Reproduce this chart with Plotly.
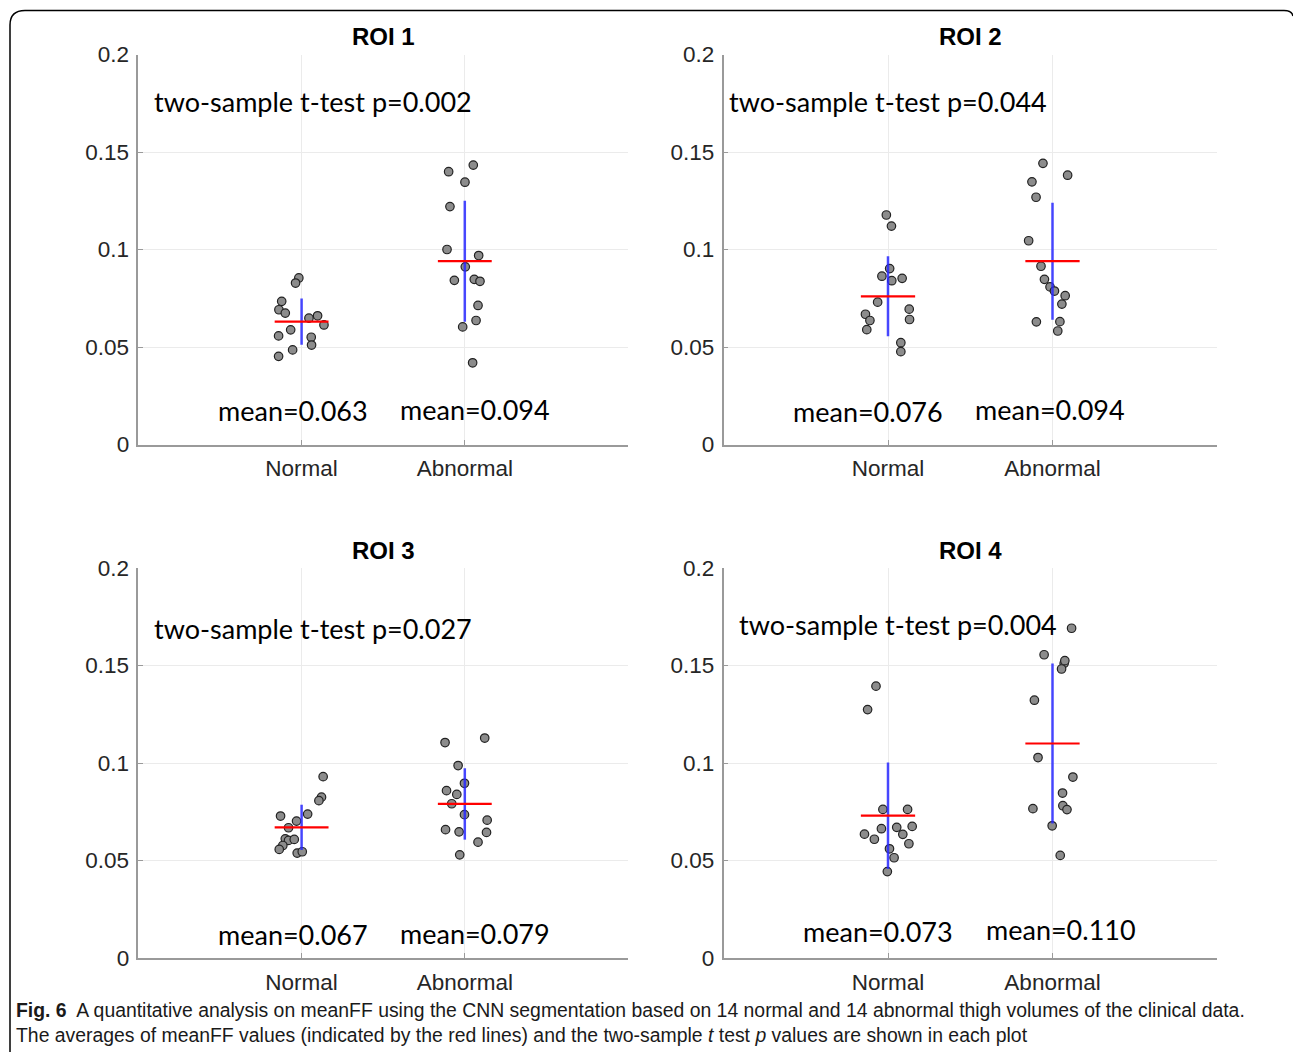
import plotly.graph_objects as go

W, H = 1293, 1052

# ---------------- data ----------------
roi_titles = ["ROI 1", "ROI 2", "ROI 3", "ROI 4"]
categories = ["Normal", "Abnormal"]
p_values = ["0.002", "0.044", "0.027", "0.004"]

normal_means = [0.063, 0.076, 0.067, 0.073]
abnormal_means = [0.094, 0.094, 0.079, 0.110]
normal_stds = [0.0119, 0.0205, 0.0116, 0.0273]
abnormal_stds = [0.031, 0.030, 0.0183, 0.041]

roi1_normal = [0.0854, 0.0828, 0.0734, 0.0691, 0.0674, 0.0648, 0.0660, 0.0613, 0.0588, 0.0557, 0.0550, 0.0510, 0.0485, 0.0452]
roi1_normal_jit = [-0.017, -0.037, -0.122, -0.139, -0.100, 0.045, 0.098, 0.137, -0.067, -0.141, 0.059, 0.061, -0.055, -0.141]
roi1_abnormal = [0.1433, 0.1399, 0.1345, 0.1220, 0.1000, 0.0969, 0.0911, 0.0842, 0.0847, 0.0837, 0.0713, 0.0636, 0.0603, 0.0419]
roi1_abnormal_jit = [0.052, -0.099, 0.001, -0.091, -0.109, 0.085, 0.003, -0.064, 0.058, 0.093, 0.081, 0.069, -0.013, 0.048]

roi2_normal = [0.1177, 0.1120, 0.0902, 0.0863, 0.0840, 0.0852, 0.0730, 0.0694, 0.0668, 0.0636, 0.0641, 0.0589, 0.0522, 0.0476]
roi2_normal_jit = [-0.010, 0.021, 0.010, -0.037, 0.023, 0.086, -0.063, 0.129, -0.137, -0.110, 0.131, -0.129, 0.078, 0.078]
roi2_abnormal = [0.1442, 0.1381, 0.1347, 0.1268, 0.1045, 0.0914, 0.0847, 0.0808, 0.0787, 0.0763, 0.0720, 0.0629, 0.0630, 0.0582]
roi2_abnormal_jit = [-0.058, 0.092, -0.125, -0.100, -0.145, -0.070, -0.049, -0.015, 0.012, 0.077, 0.057, -0.098, 0.045, 0.032]

roi3_normal = [0.0930, 0.0825, 0.0807, 0.0738, 0.0728, 0.0702, 0.0668, 0.0611, 0.0603, 0.0608, 0.0577, 0.0557, 0.0538, 0.0545]
roi3_normal_jit = [0.132, 0.122, 0.106, 0.037, -0.129, -0.031, -0.080, -0.100, -0.080, -0.045, -0.115, -0.137, -0.027, 0.004]
roi3_abnormal = [0.1128, 0.1105, 0.0987, 0.0896, 0.0858, 0.0839, 0.0791, 0.0735, 0.0707, 0.0658, 0.0647, 0.0644, 0.0594, 0.0529]
roi3_abnormal_jit = [0.122, -0.121, -0.041, -0.002, -0.112, -0.049, -0.080, -0.002, 0.137, -0.118, -0.035, 0.133, 0.081, -0.031]

roi4_normal = [0.1394, 0.1274, 0.0762, 0.0762, 0.0663, 0.0670, 0.0675, 0.0635, 0.0609, 0.0634, 0.0586, 0.0560, 0.0514, 0.0443]
roi4_normal_jit = [-0.073, -0.124, -0.031, 0.119, -0.040, 0.053, 0.147, -0.143, -0.083, 0.090, 0.127, 0.009, 0.037, -0.004]
roi4_abnormal = [0.1691, 0.1555, 0.1511, 0.1482, 0.1525, 0.1322, 0.1028, 0.0928, 0.0846, 0.0781, 0.0761, 0.0766, 0.0678, 0.0526]
roi4_abnormal_jit = [0.116, -0.051, 0.071, 0.055, 0.075, -0.110, -0.088, 0.124, 0.061, 0.063, 0.088, -0.119, -0.002, 0.047]

normal_sets = [roi1_normal, roi2_normal, roi3_normal, roi4_normal]
normal_jits = [roi1_normal_jit, roi2_normal_jit, roi3_normal_jit, roi4_normal_jit]
abnormal_sets = [roi1_abnormal, roi2_abnormal, roi3_abnormal, roi4_abnormal]
abnormal_jits = [roi1_abnormal_jit, roi2_abnormal_jit, roi3_abnormal_jit, roi4_abnormal_jit]

y_ticks = [0, 0.05, 0.1, 0.15, 0.2]
y_ticktext = ["0", "0.05", "0.1", "0.15", "0.2"]

# ---------------- layout geometry (pixels) ----------------
def px_x(p):
    return p / W

def px_y(p):
    return 1 - p / H

x_domains = [(138.4, 628.0), (723.5, 1217.0)]
y_domains = [(54.5, 444.5), (568.0, 958.0)]

# text positions in data coords per panel: (p-text x, p-text y, meanN x, meanN y, meanA x, meanA y)
text_pos = [
    (0.083, 0.176, 0.947, 0.0172, 2.06, 0.0182),
    (0.020, 0.176, 0.878, 0.0170, 1.985, 0.0180),
    (0.083, 0.169, 0.947, 0.0123, 2.06, 0.0128),
    (0.082, 0.171, 0.940, 0.0138, 2.05, 0.0144),
]

fig = go.Figure()
annotations = []
layout_axes = {}

tick_font = dict(family="Liberation Sans, Arial, sans-serif", size=22.5, color="#262626")
txt_font = dict(family="Lato, Carlito, sans-serif", size=27, color="#000000")
blue = "rgba(40,40,255,0.85)"
red = "#ff0000"
half_w = 0.165

for i in range(4):
    r, c = divmod(i, 2)
    xs = "" if i == 0 else str(i + 1)
    xa, ya = "x" + xs, "y" + xs
    xd = x_domains[c]
    yd = y_domains[r]
    layout_axes["xaxis" + xs] = dict(
        domain=[px_x(xd[0]), px_x(xd[1])], anchor=ya, range=[0, 3],
        tickvals=[1, 2], ticktext=categories, ticks="inside", ticklen=5,
        tickcolor="#9a9a9a", showline=True, linecolor="#9a9a9a", linewidth=1.5,
        showgrid=True, gridcolor="#ebebeb", gridwidth=1, zeroline=False,
        tickfont=tick_font, ticklabelstandoff=3, fixedrange=True, automargin=False,
    )
    layout_axes["yaxis" + xs] = dict(
        domain=[px_y(yd[1]), px_y(yd[0])], anchor=xa, range=[0, 0.2],
        tickvals=y_ticks, ticktext=y_ticktext, ticks="inside", ticklen=5,
        tickcolor="#9a9a9a", showline=True, linecolor="#9a9a9a", linewidth=1.5,
        showgrid=True, gridcolor="#ebebeb", gridwidth=1, zeroline=False,
        tickfont=tick_font, ticklabelstandoff=3, fixedrange=True, automargin=False,
    )

    groups = [
        (1, normal_sets[i], normal_jits[i], normal_means[i], normal_stds[i]),
        (2, abnormal_sets[i], abnormal_jits[i], abnormal_means[i], abnormal_stds[i]),
    ]
    for xc, vals, jit, m, s in groups:
        fig.add_trace(go.Scatter(
            x=[xc + j for j in jit], y=vals, mode="markers", xaxis=xa, yaxis=ya,
            marker=dict(size=8.5, color="#8c8c8c", line=dict(color="#222222", width=1.2)),
            showlegend=False, hoverinfo="skip",
        ))
        fig.add_trace(go.Scatter(
            x=[xc, xc], y=[m - s, m + s], mode="lines", xaxis=xa, yaxis=ya,
            line=dict(color=blue, width=2.5), showlegend=False, hoverinfo="skip",
        ))
        fig.add_trace(go.Scatter(
            x=[xc - half_w, xc + half_w], y=[m, m], mode="lines", xaxis=xa, yaxis=ya,
            line=dict(color=red, width=2.2), showlegend=False, hoverinfo="skip",
        ))

    tp = text_pos[i]
    annotations.append(dict(
        x=tp[0], y=tp[1], xref=xa, yref=ya, xanchor="left", yanchor="middle",
        text="two-sample t-test p=" + p_values[i], showarrow=False, font=txt_font,
    ))
    annotations.append(dict(
        x=tp[2], y=tp[3], xref=xa, yref=ya, xanchor="center", yanchor="middle",
        text="mean=%.3f" % normal_means[i], showarrow=False, font=txt_font,
    ))
    annotations.append(dict(
        x=tp[4], y=tp[5], xref=xa, yref=ya, xanchor="center", yanchor="middle",
        text="mean=%.3f" % abnormal_means[i], showarrow=False, font=txt_font,
    ))
    # title
    annotations.append(dict(
        x=px_x((xd[0] + xd[1]) / 2), y=px_y(yd[0] - 18), xref="paper", yref="paper",
        xanchor="center", yanchor="middle", text="<b>" + roi_titles[i] + "</b>",
        showarrow=False, font=dict(family="Liberation Sans, Arial, sans-serif", size=24, color="#000000"),
    ))

cap_font = dict(family="Liberation Sans, Arial, sans-serif", size=19.4, color="#1a1a1a")
annotations.append(dict(
    x=px_x(14), y=px_y(1010), xref="paper", yref="paper", xanchor="left", yanchor="middle",
    text="<b>Fig. 6</b>  A quantitative analysis on meanFF using the CNN segmentation based on 14 normal and 14 abnormal thigh volumes of the clinical data.",
    showarrow=False, font=cap_font,
))
annotations.append(dict(
    x=px_x(14), y=px_y(1035), xref="paper", yref="paper", xanchor="left", yanchor="middle",
    text="The averages of meanFF values (indicated by the red lines) and the two-sample <i>t</i> test <i>p</i> values are shown in each plot",
    showarrow=False, font=cap_font,
))

# outer frame (rounded top corners)
frame_path = (
    f"M {px_x(10)} {px_y(1052)} L {px_x(10)} {px_y(25)} "
    f"Q {px_x(10)} {px_y(10.5)} {px_x(25)} {px_y(10.5)} "
    f"L {px_x(1284)} {px_y(10.5)} Q {px_x(1292)} {px_y(10.5)} {px_x(1293)} {px_y(16)}"
)
shapes = [dict(type="path", path=frame_path, xref="paper", yref="paper",
               line=dict(color="#000000", width=1.5))]

fig.update_layout(
    width=W, height=H, margin=dict(l=0, r=0, t=0, b=0, pad=0, autoexpand=False),
    paper_bgcolor="white", plot_bgcolor="white",
    annotations=annotations, shapes=shapes, showlegend=False,
    **layout_axes,
)

fig.write_html(
    "out.html",
    config={"displayModeBar": False},
    post_script="document.body.style.margin='0';document.body.style.overflow='hidden';",
)
